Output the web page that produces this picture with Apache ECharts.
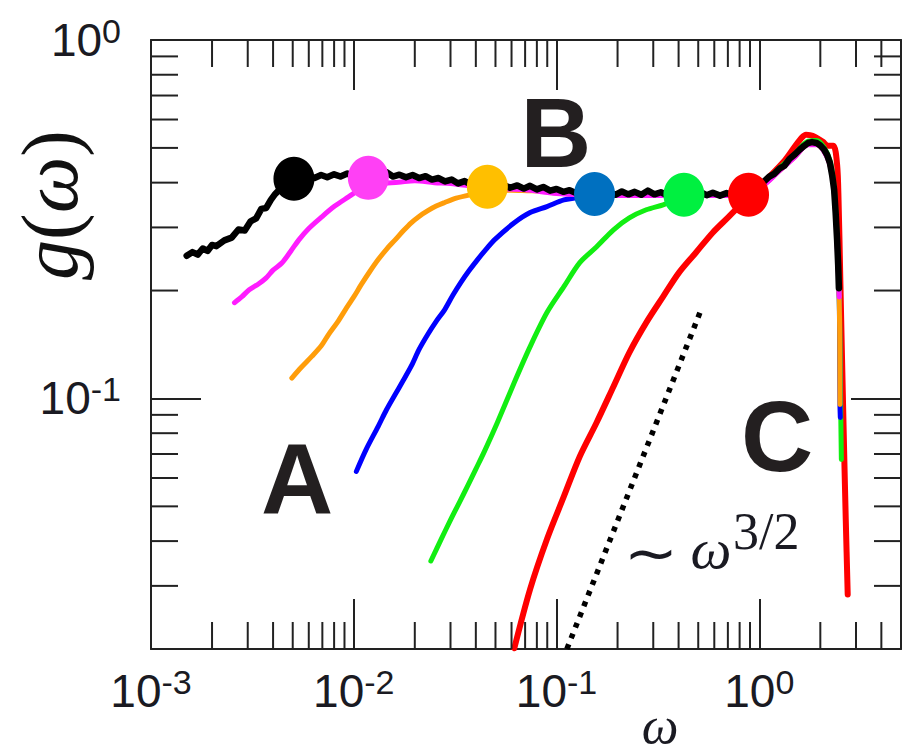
<!DOCTYPE html>
<html><head><meta charset="utf-8">
<script src="https://cdn.jsdelivr.net/npm/echarts@6.0.0/dist/echarts.min.js"></script>
<style>html,body{margin:0;padding:0;background:#fff}#c{width:904px;height:752px}</style>
</head><body><div id="c"></div>
<script>
// ---- axis ranges & ticks ----
const X_MIN = 0.001, X_MAX = 5, Y_MIN = 0.02, Y_MAX = 1;
const xDecades = [0.001, 0.01, 0.1, 1];
const yDecades = [0.1, 1];
const xMinorTicks = [0.002,0.003,0.004,0.005,0.006,0.007,0.008,0.009,
  0.02,0.03,0.04,0.05,0.06,0.07,0.08,0.09,
  0.2,0.3,0.4,0.5,0.6,0.7,0.8,0.9, 2,3,4];
const yMinorTicks = [0.03,0.04,0.05,0.06,0.07,0.08,0.09, 0.2,0.3,0.4,0.5,0.6,0.7,0.8,0.9];

// ---- curves [omega, g] ----
const blackCurve = [
 [0.0015,0.250],[0.0016,0.256],[0.0017,0.252],[0.0018,0.262],[0.0019,0.258],[0.0020,0.268],
 [0.0021,0.266],[0.0023,0.276],[0.0025,0.281],[0.0027,0.296],[0.0029,0.294],[0.0031,0.312],
 [0.0033,0.318],[0.0035,0.338],[0.0037,0.340],[0.0039,0.358],[0.0041,0.372],[0.0044,0.388],
 [0.0047,0.400],[0.0051,0.408],[0.0055,0.406],[0.0059,0.416],[0.0064,0.412],[0.0069,0.420],
 [0.0074,0.414],[0.0080,0.422],[0.0086,0.416],[0.0093,0.424],[0.0100,0.418],[0.0108,0.421],
 [0.0116,0.415],[0.0125,0.423],[0.0135,0.417],[0.0145,0.428],[0.0156,0.416],[0.0168,0.421],
 [0.0181,0.414],[0.0195,0.420],[0.021,0.412],[0.0226,0.417],[0.0243,0.408],[0.0262,0.412],
 [0.0282,0.403],[0.0304,0.408],[0.0327,0.398],[0.0352,0.404],[0.0379,0.395],[0.0408,0.401],
 [0.044,0.392],[0.047,0.396],[0.051,0.388],[0.055,0.394],[0.059,0.387],[0.064,0.393],
 [0.069,0.385],[0.074,0.392],[0.080,0.383],[0.086,0.389],[0.093,0.380],[0.100,0.384],
 [0.108,0.377],[0.116,0.381],[0.125,0.374],[0.135,0.379],[0.145,0.372],[0.156,0.378],
 [0.168,0.371],[0.181,0.376],[0.195,0.370],[0.21,0.378],[0.226,0.371],[0.243,0.377],
 [0.262,0.370],[0.282,0.380],[0.304,0.371],[0.327,0.376],[0.352,0.369],[0.379,0.377],
 [0.408,0.370],[0.44,0.375],[0.47,0.368],[0.51,0.377],[0.55,0.369],[0.59,0.375],
 [0.64,0.368],[0.69,0.374],[0.74,0.370],[0.80,0.376],[0.86,0.372],[0.93,0.382],
 [1.00,0.392],[1.06,0.404],[1.12,0.416],[1.19,0.424],[1.26,0.438],[1.33,0.446],
 [1.41,0.466],[1.50,0.480],[1.58,0.494],[1.66,0.506],[1.74,0.516],[1.82,0.519],
 [1.92,0.516],[2.00,0.508],[2.08,0.496],[2.16,0.478],[2.23,0.454],[2.29,0.418],
 [2.34,0.382],[2.38,0.330],[2.42,0.277],[2.45,0.235],[2.47,0.203]
];
const magentaCurve = [
 [0.00258,0.185],[0.0028,0.192],[0.00305,0.201],[0.0034,0.209],[0.0037,0.217],[0.0040,0.228],
 [0.00443,0.239],[0.0049,0.258],[0.00536,0.277],[0.0060,0.298],[0.00695,0.321],[0.0080,0.343],
 [0.00942,0.365],[0.0105,0.380],[0.0118,0.392],[0.0135,0.398],[0.0166,0.401],[0.020,0.405],
 [0.025,0.400],[0.030,0.398],[0.040,0.390],[0.050,0.385],[0.070,0.382],[0.10,0.373],
 [0.20,0.368],[0.40,0.368],[0.80,0.368],[1.00,0.385],[1.26,0.432],[1.50,0.472],
 [1.74,0.510],[1.92,0.510],[2.08,0.490],[2.23,0.448],[2.34,0.378],[2.42,0.272],[2.48,0.192]
];
const orangeCurve = [
 [0.00495,0.114],[0.0055,0.122],[0.00621,0.131],[0.0069,0.140],[0.00752,0.151],[0.0083,0.163],
 [0.0091,0.177],[0.0100,0.192],[0.0109,0.208],[0.0120,0.226],[0.0132,0.244],[0.0146,0.262],
 [0.0160,0.277],[0.0176,0.294],[0.0192,0.309],[0.0210,0.322],[0.0232,0.334],[0.0255,0.344],
 [0.0281,0.352],[0.032,0.362],[0.0377,0.370],[0.044,0.376],[0.0511,0.380],[0.060,0.381],
 [0.0716,0.380],[0.085,0.379],[0.10,0.374],[0.20,0.369],[0.40,0.369],[0.80,0.369],
 [1.00,0.386],[1.26,0.433],[1.50,0.473],[1.74,0.511],[1.92,0.511],[2.08,0.491],
 [2.23,0.450],[2.34,0.380],[2.42,0.275],[2.48,0.190],[2.50,0.0962]
];
const blueCurve = [
 [0.0103,0.0626],[0.0115,0.0720],[0.0132,0.0836],[0.0145,0.0930],[0.0160,0.1026],[0.0175,0.112],
 [0.0192,0.123],[0.0210,0.137],[0.0232,0.151],[0.0255,0.164],[0.0281,0.177],[0.0308,0.194],
 [0.0337,0.2105],[0.0370,0.227],[0.0408,0.244],[0.0450,0.261],[0.0494,0.277],[0.0619,0.309],
 [0.0741,0.330],[0.0897,0.343],[0.1087,0.358],[0.126,0.363],[0.154,0.372],[0.20,0.372],
 [0.40,0.370],[0.80,0.370],[1.00,0.387],[1.26,0.434],[1.50,0.474],[1.74,0.512],
 [1.92,0.513],[2.08,0.492],[2.23,0.451],[2.34,0.381],[2.42,0.276],[2.48,0.190],
 [2.50,0.096],[2.51,0.0885]
];
const greenCurve = [
 [0.0240,0.0352],[0.0270,0.0405],[0.0301,0.046],[0.0333,0.0515],[0.0364,0.0569],[0.0400,0.0635],
 [0.0441,0.0712],[0.0511,0.0857],[0.0619,0.1108],[0.0741,0.1395],[0.0897,0.1736],[0.1087,0.205],
 [0.1302,0.2393],[0.1577,0.265],[0.191,0.2955],[0.2286,0.319],[0.277,0.336],[0.3355,0.347],
 [0.425,0.364],[0.55,0.369],[0.80,0.371],[1.00,0.390],[1.26,0.440],[1.50,0.482],
 [1.74,0.522],[1.92,0.524],[2.08,0.503],[2.23,0.462],[2.34,0.390],[2.42,0.285],
 [2.48,0.195],[2.52,0.095],[2.54,0.0676]
];
const redCurve = [
 [0.0619,0.0201],[0.0741,0.0294],[0.0897,0.0405],[0.1087,0.0533],[0.1302,0.0689],[0.1577,0.0857],
 [0.191,0.108],[0.2286,0.1343],[0.277,0.1628],[0.3355,0.1924],[0.4018,0.2244],[0.4864,0.255],
 [0.589,0.290],[0.706,0.321],[0.885,0.365],[1.109,0.413],[1.342,0.463],[1.50,0.505],
 [1.625,0.535],[1.70,0.544],[1.778,0.543],[1.882,0.537],[2.06,0.520],[2.178,0.507],
 [2.32,0.507],[2.42,0.449],[2.46,0.358],[2.51,0.2145],[2.56,0.1285],[2.62,0.0721],
 [2.67,0.046],[2.73,0.0284]
];
const powerLaw = [[0.1125,0.020],[0.521,0.179]];

// ---- marker dots ----
const dotOmega = [0.00507, 0.0118, 0.0456, 0.154, 0.425, 0.885];
const dotG     = [0.410, 0.4125, 0.3896, 0.372, 0.370, 0.370];
const dotColors = ['#000000', '#ff40f5', '#ffbf00', '#0070c0', '#00f040', '#ff0000'];

const chart = echarts.init(document.getElementById('c'), null, {renderer: 'svg'});
const INK = '#222222';
const LABEL_FONT = "'Liberation Sans Narrow','Arial Narrow','Liberation Sans',sans-serif";

function decadeLabel(v, decades) {
  const hit = decades.find(d => Math.abs(Math.log10(d) - Math.log10(v)) < 1e-6);
  if (hit === undefined) return '';
  return '{b|10}{s|' + Math.round(Math.log10(hit)) + '}';
}
const richLabel = {
  b: {fontSize: 46, lineHeight: 52, fontFamily: LABEL_FONT, color: '#1a1a22'},
  s: {fontSize: 34, lineHeight: 20, verticalAlign: 'top', fontFamily: LABEL_FONT, color: '#1a1a22'}
};
const axisLineStyle = {show: true, lineStyle: {color: INK, width: 2}};
const majorTick = {show: true, inside: true, length: 50, lineStyle: {color: INK, width: 2}};

function tickLine(x1, y1, x2, y2) {
  return {type: 'line', shape: {x1, y1, x2, y2}, style: {stroke: INK, lineWidth: 2}};
}

const curveDefs = [
  {name: 'red', data: redCurve, color: '#ff0000', width: 6, smooth: 0.3},
  {name: 'green', data: greenCurve, color: '#12ee12', width: 5, smooth: 0.3},
  {name: 'blue', data: blueCurve, color: '#0000ff', width: 5, smooth: 0.3},
  {name: 'orange', data: orangeCurve, color: '#ff9d0a', width: 5, smooth: 0.3},
  {name: 'magenta', data: magentaCurve, color: '#ff1cff', width: 5, smooth: 0.3},
  {name: 'black', data: blackCurve, color: '#000000', width: 6.5, smooth: false}
];

const series = [
  {
    type: 'custom', coordinateSystem: 'cartesian2d', clip: false, silent: true, z: 4,
    data: xMinorTicks.map(v => [v, Y_MIN]),
    renderItem: (params, api) => {
      const v = api.value(0);
      const b = api.coord([v, Y_MIN]);
      const t = api.coord([v, Y_MAX]);
      return {type: 'group', children: [tickLine(b[0], b[1], b[0], b[1] - 27), tickLine(t[0], t[1], t[0], t[1] + 27)]};
    }
  },
  {
    type: 'custom', coordinateSystem: 'cartesian2d', clip: false, silent: true, z: 4,
    data: yMinorTicks.map(v => [X_MIN, v]),
    renderItem: (params, api) => {
      const v = api.value(1);
      const l = api.coord([X_MIN, v]);
      const r = api.coord([X_MAX, v]);
      return {type: 'group', children: [tickLine(l[0], l[1], l[0] + 27, l[1]), tickLine(r[0], r[1], r[0] - 27, r[1])]};
    }
  }
];
curveDefs.forEach(c => series.push({
  name: c.name, type: 'line', data: c.data, showSymbol: false, symbol: 'none', clip: true, smooth: c.smooth,
  lineStyle: {color: c.color, width: c.width, join: 'round', cap: 'round'}, z: 2
}));
series.push({
  name: 'power law', type: 'line', data: powerLaw, showSymbol: false, symbol: 'none', clip: true,
  lineStyle: {color: '#000000', width: 5.5, type: [5, 6.5], cap: 'butt'}, z: 2
});
series.push({
  name: 'dots', type: 'scatter', symbol: 'circle', symbolSize: [41, 44], z: 3,
  data: dotOmega.map((w, i) => ({value: [w, dotG[i]], itemStyle: {color: dotColors[i], opacity: 1}}))
});

const serif = 'Liberation Serif';
const option = {
  animation: false,
  backgroundColor: '#ffffff',
  grid: {left: 151, top: 40, right: -4, bottom: 103},
  xAxis: [
    {type: 'log', logBase: 10, min: X_MIN, max: X_MAX, position: 'bottom',
     axisLine: axisLineStyle, axisTick: majorTick, splitLine: {show: false},
     axisLabel: {margin: 16, formatter: v => decadeLabel(v, xDecades), rich: richLabel, hideOverlap: false}},
    {type: 'log', logBase: 10, min: X_MIN, max: X_MAX, position: 'top',
     axisLine: axisLineStyle, axisTick: majorTick, splitLine: {show: false}, axisLabel: {show: false}}
  ],
  yAxis: [
    {type: 'log', logBase: 10, min: Y_MIN, max: Y_MAX, position: 'left',
     axisLine: axisLineStyle, axisTick: majorTick, splitLine: {show: false},
     axisLabel: {margin: 30, formatter: v => decadeLabel(v, yDecades), rich: richLabel, hideOverlap: false}},
    {type: 'log', logBase: 10, min: Y_MIN, max: Y_MAX, position: 'right',
     axisLine: axisLineStyle, axisTick: majorTick, splitLine: {show: false}, axisLabel: {show: false}}
  ],
  series: series,
  graphic: [
    {type: 'text', x: 50, y: 205, rotation: Math.PI / 2, z: 10,
     style: {text: '{i|g}{n|(}{i|ω}{n|)}', textAlign: 'center', textVerticalAlign: 'middle',
       rich: {i: {fontFamily: serif, fontStyle: 'italic', fontSize: 80, fill: '#111'},
              n: {fontFamily: serif, fontSize: 80, fill: '#111'}}}},
    {type: 'text', x: 660, y: 751, z: 10,
     style: {text: 'ω', fontFamily: serif, fontStyle: 'italic', fontSize: 52, fill: '#1a1a22',
       textAlign: 'center', textVerticalAlign: 'bottom'}},
    {type: 'text', x: 651, y: 553, scaleX: 1.12, z: 10,
     style: {text: '∼', fontFamily: 'DejaVu Sans', fontSize: 58, fill: '#1a1a22',
       textAlign: 'center', textVerticalAlign: 'middle'}},
    {type: 'text', x: 711, y: 548, z: 10,
     style: {text: 'ω', fontFamily: serif, fontStyle: 'italic', fontSize: 58, fill: '#1a1a22',
       textAlign: 'center', textVerticalAlign: 'middle'}},
    {type: 'text', x: 733, y: 531, z: 10,
     style: {text: '3/2', fontFamily: serif, fontSize: 52, fill: '#1a1a22',
       textAlign: 'left', textVerticalAlign: 'middle'}},
    {type: 'text', x: 297, y: 479, z: 10,
     style: {text: 'A', fontFamily: 'Liberation Sans', fontWeight: 'bold', fontSize: 100, fill: '#231f20',
       textAlign: 'center', textVerticalAlign: 'middle'}},
    {type: 'text', x: 556, y: 133, z: 10,
     style: {text: 'B', fontFamily: 'Liberation Sans', fontWeight: 'bold', fontSize: 98, fill: '#231f20',
       textAlign: 'center', textVerticalAlign: 'middle'}},
    {type: 'text', x: 777, y: 436, z: 10,
     style: {text: 'C', fontFamily: 'Liberation Sans', fontWeight: 'bold', fontSize: 100, fill: '#231f20',
       textAlign: 'center', textVerticalAlign: 'middle'}}
  ]
};
chart.setOption(option);
</script></body></html>
